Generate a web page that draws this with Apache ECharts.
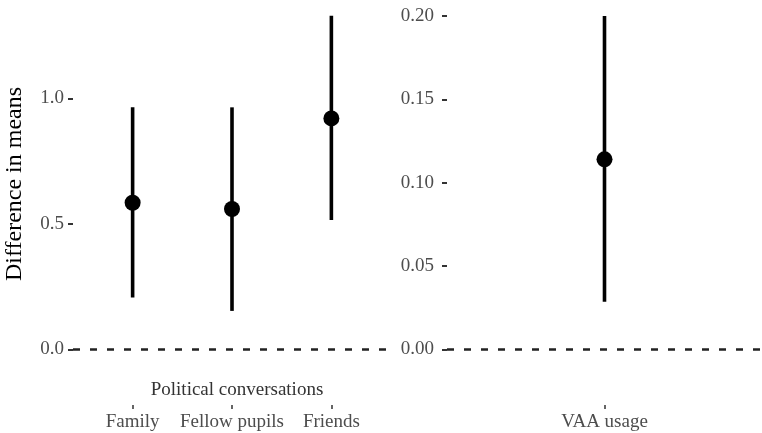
<!DOCTYPE html>
<html>
<head>
<meta charset="utf-8">
<script src="https://cdn.jsdelivr.net/npm/echarts@6/dist/echarts.min.js"></script>
<style>
  html, body { margin: 0; padding: 0; background: #fff; }
  #main { width: 762px; height: 433px; }
</style>
</head>
<body>
<div id="main"></div>
<script>
// left panel: political conversations
var convCategories = ['Family', 'Fellow pupils', 'Friends'];
var convMeans = [0.584, 0.559, 0.920];
var convLower = [0.206, 0.153, 0.515];
var convUpper = [0.964, 0.964, 1.329];
var convTicks = [0, 0.5, 1.0];

// right panel: VAA usage
var vaaCategories = ['VAA usage'];
var vaaMeans = [0.114];
var vaaLower = [0.0286];
var vaaUpper = [0.2001];
var vaaTicks = [0, 0.05, 0.10, 0.15, 0.20];

var FONT = '"Liberation Serif", "Times New Roman", serif';

function pointData(means) {
    return means.map(function (m, i) { return [i + 1, m]; });
}
function barData(lo, hi) {
    return lo.map(function (l, i) { return [i + 1, l, hi[i]]; });
}
function renderBar(params, api) {
    var a = api.coord([api.value(0), api.value(1)]);
    var b = api.coord([api.value(0), api.value(2)]);
    return {
        type: 'line',
        shape: { x1: a[0], y1: a[1], x2: b[0], y2: b[1] },
        style: { stroke: '#000', lineWidth: 3.6 }
    };
}
function xAxisFor(cats, idx) {
    var vals = cats.map(function (c, i) { return i + 1; });
    return {
        type: 'value', gridIndex: idx,
        min: 0.4, max: cats.length + 0.6,
        axisLine: { show: false, onZero: false },
        splitLine: { show: false },
        axisTick: { customValues: vals, length: 4, lineStyle: { color: '#333', width: 1.5 } },
        axisLabel: {
            customValues: vals, margin: 8,
            color: '#4d4d4d', fontFamily: FONT, fontSize: 19,
            formatter: function (v) { return cats[Math.round(v) - 1]; }
        }
    };
}
function yAxisFor(ticks, idx, min, max, digits, margin) {
    return {
        type: 'value', gridIndex: idx, min: min, max: max,
        axisLine: { show: false, onZero: false },
        splitLine: { show: false },
        axisTick: { customValues: ticks, length: 5, lineStyle: { color: '#333', width: 2 } },
        axisLabel: {
            customValues: ticks, margin: margin,
            color: '#4d4d4d', fontFamily: FONT, fontSize: 19,
            formatter: function (v) { return v.toFixed(digits); }
        }
    };
}
var zeroLine = {
    silent: true, symbol: 'none', label: { show: false },
    lineStyle: { color: '#222', type: [7, 10], width: 2.6 },
    data: [{ yAxis: 0 }]
};

var chart = echarts.init(document.getElementById('main'));

chart.setOption({
    animation: false,
    title: {
        text: 'Political conversations',
        left: 232, top: 376, textAlign: 'center',
        textStyle: { color: '#333', fontFamily: FONT, fontSize: 19, fontWeight: 'normal' }
    },
    graphic: [{
        type: 'text', x: 15, y: 184, rotation: Math.PI / 2,
        style: {
            text: 'Difference in means', fill: '#000', font: '24px ' + FONT,
            textAlign: 'center', textVerticalAlign: 'middle'
        }
    }],
    grid: [
        { left: 73, width: 318, top: 3, bottom: 28 },
        { left: 447, right: -3, top: 3, bottom: 28 }
    ],
    xAxis: [xAxisFor(convCategories, 0), xAxisFor(vaaCategories, 1)],
    yAxis: [
        yAxisFor(convTicks, 0, -0.2219, 1.3797, 1, 9),
        yAxisFor(vaaTicks, 1, -0.03344, 0.20786, 2, 13)
    ],
    series: [
        { type: 'custom', xAxisIndex: 0, yAxisIndex: 0, renderItem: renderBar,
          data: barData(convLower, convUpper), markLine: zeroLine, z: 2 },
        { type: 'scatter', xAxisIndex: 0, yAxisIndex: 0, symbolSize: 16,
          itemStyle: { color: '#000', opacity: 1 }, data: pointData(convMeans), z: 3 },
        { type: 'custom', xAxisIndex: 1, yAxisIndex: 1, renderItem: renderBar,
          data: barData(vaaLower, vaaUpper), markLine: zeroLine, z: 2 },
        { type: 'scatter', xAxisIndex: 1, yAxisIndex: 1, symbolSize: 16,
          itemStyle: { color: '#000', opacity: 1 }, data: pointData(vaaMeans), z: 3 }
    ]
});
</script>
</body>
</html>
